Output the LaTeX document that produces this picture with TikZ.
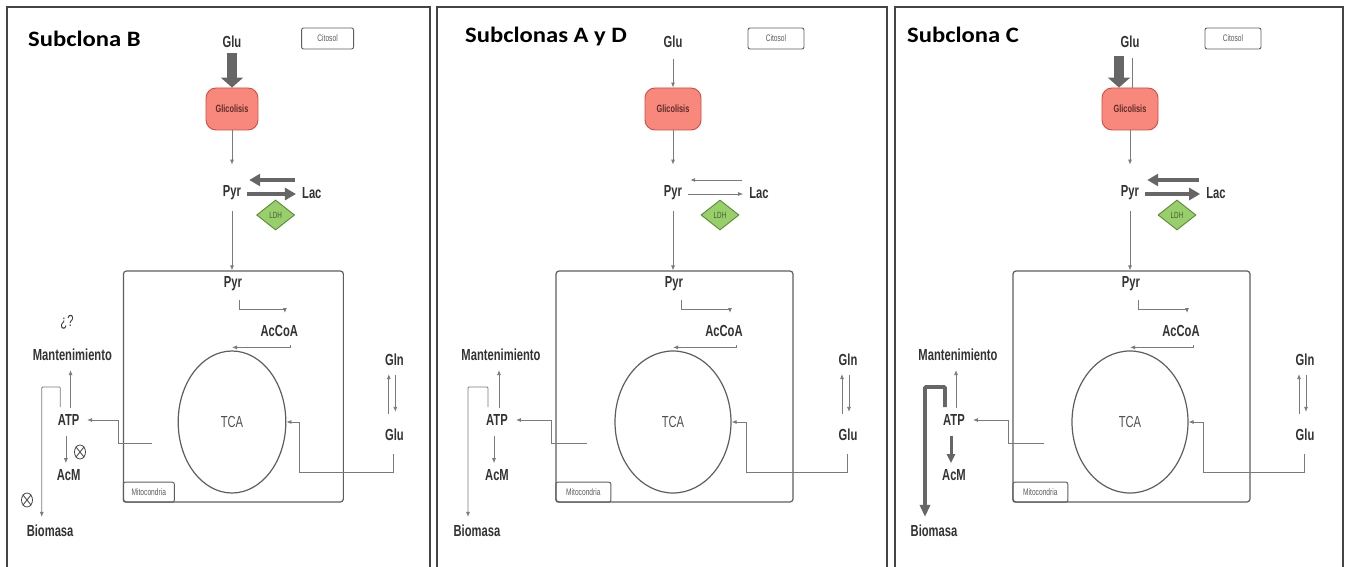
\documentclass[tikz,border=0pt]{standalone}
\usepackage{fontspec}
\setmainfont{Liberation Sans}
\newfontfamily\nsans[FakeStretch=0.7]{Liberation Sans}
\newfontfamily\ttlfont[FakeStretch=1.12]{Carlito}
\usetikzlibrary{arrows.meta,shapes.geometric}

\definecolor{txt}{HTML}{333333}
\definecolor{conn}{HTML}{7A7A7A}
\definecolor{fat}{HTML}{666666}
\definecolor{boxline}{HTML}{5E5E5E}
\definecolor{frame}{HTML}{444444}
\definecolor{glyfill}{HTML}{F8877C}
\definecolor{glyline}{HTML}{D24C45}
\definecolor{glytxt}{HTML}{5A2E2A}
\definecolor{ldhfill}{HTML}{98CF6A}
\definecolor{ldhline}{HTML}{5A8A38}
\definecolor{ldhtxt}{HTML}{465A38}

\tikzset{
  lbl/.style={font=\nsans\bfseries\fontsize{16}{18}\selectfont, text=txt, inner sep=0pt},
  paneltitle/.style={font=\ttlfont\bfseries\fontsize{22}{25}\selectfont, text=black, inner sep=0pt, anchor=west},
  smalltag/.style={draw=boxline, line width=0.9pt, rounded corners=2pt, inner sep=0pt,
    font=\nsans\fontsize{9.5}{10}\selectfont, text=txt!80},
  con/.style={draw=conn, line width=0.8pt, -{Latex[length=5pt,width=4pt]}},
  thinline/.style={draw=conn, line width=0.8pt},
  fatflow/.style={draw=fat, line width=4.5pt, -{Triangle[length=11pt,width=12pt]}},
  fatacm/.style={draw=fat, line width=3pt, -{Triangle[length=9pt,width=8pt]}},
  fatbio/.style={draw=fat, line width=3.8pt, -{Triangle[length=12pt,width=10pt]}},
  fatglu/.style={draw=fat, line width=10pt, -{Triangle[length=10pt,width=22pt]}},
  blocked/.style={draw=frame, line width=0.8pt, ellipse, minimum width=11pt, minimum height=14pt, inner sep=0pt},
  panelframe/.style={draw=frame, line width=1.6pt},
}

% #1 name prefix, #2 horizontal position, #3 horizontal scale,
% #4 Pyr/Lac arrow style, #5 ATP->AcM style, #6 ATP->Biomasa style
\newcommand\metpanel[6]{%
\begin{scope}[shift={(#2,0)}, xscale=#3]
  % cytosol
  \node[lbl] (#1glu) at (0,42) {Glu};
  \node[smalltag, minimum width={56pt*#3}, minimum height=21pt] (#1cit) at (103,38.5) {Citosol};
  \node[draw=glyline, fill=glyfill, line width=0.9pt, rounded corners=10pt,
        minimum width={56pt*#3}, minimum height=42pt, inner sep=0pt,
        font=\nsans\bfseries\fontsize{10.5}{11}\selectfont, text=glytxt] (#1gli) at (0,109) {Glicolisis};
  \node[lbl] (#1pyr) at (0,193) {Pyr};
  \node[lbl] (#1lac) at (86,193) {Lac};
  \node[diamond, draw=ldhline, fill=ldhfill, line width=0.9pt, inner sep=0pt,
        minimum width=38pt, minimum height=30pt,
        font=\nsans\fontsize{9}{9}\selectfont, text=ldhtxt] (#1ldh) at (47,215) {LDH};
  \draw[con, shorten >=21pt] (#1gli.south) -- (#1pyr.north);
  \draw[#4, shorten <=6pt, shorten >=6pt] ([yshift=-1pt]#1pyr.east) -- ([yshift=-1pt]#1lac.west);
  \draw[#4, shorten <=7pt, shorten >=8pt] ([yshift=13pt]#1lac.west) -- ([yshift=13pt]#1pyr.east);
  % mitochondrion
  \node[draw=boxline, line width=1.2pt, rounded corners=3pt, minimum width={237pt*#3},
        minimum height=231pt, inner sep=0pt] (#1mito) at (1.5,386.5) {};
  \node[smalltag, anchor=south west, minimum width={55pt*#3}, minimum height=20pt] (#1mtag) at (#1mito.south west) {Mitocondria};
  \draw[con, shorten <=11pt] (#1pyr.south) -- (#1pyr.south |- #1mito.north);
  \node[lbl] (#1pyrm) at (1,284) {Pyr};
  \node[lbl] (#1acc) at (51,331) {AcCoA};
  \node[draw=boxline, line width=1.2pt, ellipse, minimum width={116pt*#3},
        minimum height=142pt, inner sep=0pt, font=\nsans\fontsize{16}{18}\selectfont,
        text=txt!85] (#1tca) at (0,422) {TCA};
  \coordinate (#1k1) at (8,300);
  \coordinate (#1k2) at (57,309);
  \draw[con] (#1k1) |- (#1k2) -- ++(0,4);
  \coordinate (#1k3) at (63,345);
  \draw[con] (#1k3) |- ([yshift=3pt]#1tca.north);
  % glutamine entry
  \node[lbl] (#1gln) at (175,360) {Gln};
  \node[lbl] (#1glur) at (175,435) {Glu};
  \draw[con, shorten <=15pt, shorten >=8pt] ([xshift=-6pt]#1glur.north) -- ([xshift=-6pt]#1glur.north |- #1gln.south);
  \draw[con, shorten <=9pt, shorten >=17pt] ([xshift=1pt]#1gln.south) -- ([xshift=1pt]#1gln.south |- #1glur.north);
  \coordinate (#1k4) at (174,454);
  \draw[con] (#1k4) |- (73,472) |- (#1tca.east);
  % energy and products
  \node[lbl] (#1atp) at (-176,420) {ATP};
  \node[lbl] (#1man) at (-172,355) {Mantenimiento};
  \node[lbl] (#1acm) at (-176,475) {AcM};
  \node[lbl] (#1bio) at (-196,531) {Biomasa};
  \coordinate (#1k5) at (-86,443);
  \draw[con] (#1k5) -- (-122,443) |- ([xshift=8pt]#1atp.east);
  \draw[con, shorten <=6pt, shorten >=9pt] ([xshift=2pt]#1atp.north) -- ([xshift=2pt]#1atp.north |- #1man.south);
  \draw[#5, shorten <=10pt, shorten >=6pt] ([xshift=-3pt]#1atp.south) -- ([xshift=-3pt]#1atp.south |- #1acm.north);
  \coordinate (#1k6) at (-185,407);
  \coordinate (#1k7) at (-205,387);
  \draw[#6, rounded corners=1pt, shorten >=8pt] (#1k6) |- (#1k7) -- (#1k7 |- #1bio.north);
\end{scope}}

\begin{document}
\begin{tikzpicture}[x=1pt, y=-1pt]
\useasboundingbox[fill=white] (0,0) rectangle (1345,567);

% panel frames (open at the bottom edge)
\draw[panelframe] (7,580) |- (430,7) -- (430,580);
\draw[panelframe] (437,580) |- (887,7) -- (887,580);
\draw[panelframe] (895,580) |- (1343,7) -- (1343,580);

% Subclona B
\node[paneltitle] (tB) at (28,39) {Subclona B};
\metpanel{B}{232}{0.928}{fatflow}{con}{con}
\draw[fatglu, shorten <=5pt] (Bglu.south) -- (Bgli.north);
\node[font=\nsans\fontsize{16}{18}\selectfont, text=txt, inner sep=0pt] (Bq) at (67,322) {¿?};
\node[blocked] (Bx1) at (80,452) {};
\draw[draw=frame, line width=0.8pt] (Bx1.north east) -- (Bx1.south west) (Bx1.north west) -- (Bx1.south east);
\node[blocked] (Bx2) at (27,500) {};
\draw[draw=frame, line width=0.8pt] (Bx2.north east) -- (Bx2.south west) (Bx2.north west) -- (Bx2.south east);

% Subclonas A y D
\node[paneltitle] (tA) at (465,37) {Subclonas A y D};
\metpanel{A}{673}{1}{con}{con}{con}
\draw[con, shorten <=11pt] (Aglu.south) -- (Agli.north);

% Subclona C
\node[paneltitle] (tC) at (907,35) {Subclona C};
\metpanel{C}{1130}{1}{fatflow}{fatacm}{fatbio}
\draw[thinline, shorten <=10pt] ([xshift=2pt]Cglu.south) -- ([xshift=2pt]Cglu.south |- Cgli.north);
\draw[fatglu, shorten <=8pt] ([xshift=-11pt]Cglu.south) -- ([xshift=-11pt]Cglu.south |- Cgli.north);
\end{tikzpicture}
\end{document}
